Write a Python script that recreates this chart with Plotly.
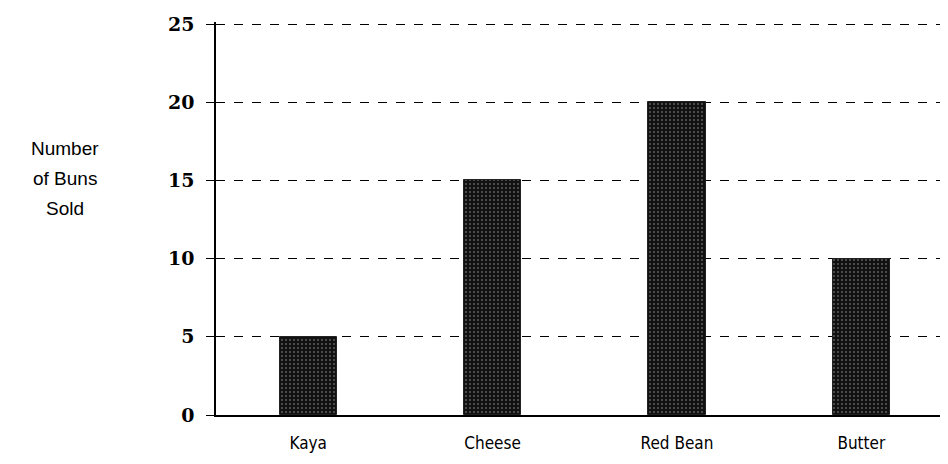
import plotly.graph_objects as go

categories = ["Kaya", "Cheese", "Red Bean", "Butter"]
buns_sold = [5, 15, 20, 10]
y_ticks = [0, 5, 10, 15, 20, 25]
y_title_lines = ["Number", "of Buns", "Sold"]

fig = go.Figure()
fig.add_trace(go.Bar(
    x=categories,
    y=buns_sold,
    width=0.31,
    marker=dict(
        color="#111111",
        line=dict(color="#222222", width=1),
        pattern=dict(shape=".", fgcolor="#aaaaaa", bgcolor="#111111", size=4, solidity=0.2),
    ),
))

# page has an 8px body margin; plot area spans window x 216..948, y 24..415
fig.update_layout(
    width=940, height=456,
    margin=dict(l=208, r=0, t=14, b=49, autoexpand=False),
    paper_bgcolor="white", plot_bgcolor="white",
    showlegend=False,
    bargap=0,
)
fig.update_xaxes(
    range=[-0.5, 3.47],
    showline=True, linecolor="black", linewidth=1.5,
    showgrid=False, ticks="",
    tickfont=dict(family="DejaVu Sans Condensed, Liberation Sans Narrow, sans-serif", size=17, color="black"),
    ticklabelstandoff=12,
)
fig.update_yaxes(
    range=[0, 25.13],
    tickvals=y_ticks,
    showline=True, linecolor="black", linewidth=1.5,
    showgrid=True, gridcolor="black", griddash="dash", gridwidth=1,
    ticks="outside", ticklen=8, tickcolor="black",
    tickfont=dict(family="DejaVu Serif", size=19, color="black", weight="bold"),
    zeroline=False,
    ticklabelstandoff=8,
)
for i, line in enumerate(y_title_lines):
    fig.add_annotation(
        text=line,
        xref="paper", yref="paper",
        x=-0.2063, y=0.677 - i * 0.0764, xanchor="center", yanchor="middle",
        showarrow=False,
        font=dict(family="Liberation Sans, Arial, sans-serif", size=19, color="black"),
    )
fig.write_html("out.html")
